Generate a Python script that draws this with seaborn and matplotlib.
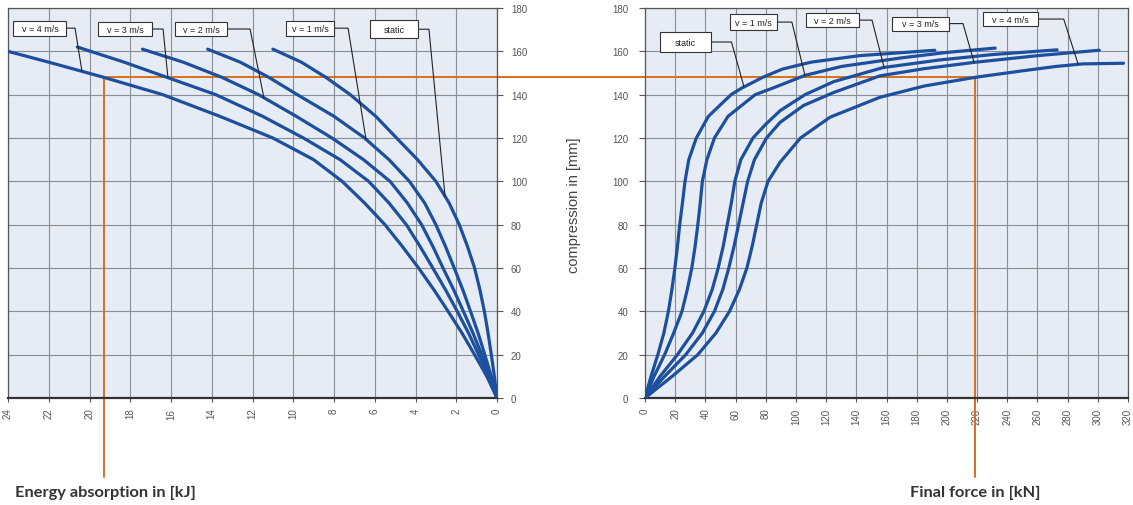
import numpy as np
import pandas as pd
import matplotlib
matplotlib.use('Agg')
import matplotlib.pyplot as plt
from matplotlib.patches import Rectangle
import seaborn as sns

# curve names, same order on both charts
series_names = ['static', 'v = 1 m/s', 'v = 2 m/s', 'v = 3 m/s', 'v = 4 m/s']

# left chart: energy absorption [kJ] vs compression [mm]
energy_mm = [0, 10, 20, 30, 40, 50, 60, 70, 80, 90, 100, 110, 120, 130, 140, 148, 155]
energy_static = [0, .13, .28, .44, .62, .84, 1.1, 1.45, 1.85, 2.35, 3.0, 3.9, 4.93, 5.95, 7.2, 8.4, 9.6]
energy_v1 = [0, .28, .6, .93, 1.3, 1.68, 2.1, 2.53, 3.0, 3.55, 4.3, 5.3, 6.5, 8.0, 9.8, 11.2, 12.6]
energy_v2 = [0, .35, .75, 1.18, 1.65, 2.13, 2.65, 3.15, 3.7, 4.4, 5.25, 6.55, 8.1, 9.85, 11.7, 13.5, 15.4]
energy_v3 = [0, .42, .9, 1.4, 1.95, 2.53, 3.15, 3.78, 4.45, 5.3, 6.3, 7.7, 9.5, 11.5, 13.8, 16.2, 18.3]
energy_v4 = [0, .5, 1.1, 1.72, 2.4, 3.1, 3.85, 4.65, 5.5, 6.5, 7.6, 9.0, 11.0, 13.6, 16.4, 19.3, 22.0]
energy_end_mm = [161, 161, 161, 162, 160]
energy_end_kj = [11.0, 14.2, 17.4, 20.6, 24.0]

# right chart: final force [kN] vs compression [mm]
force_mm_static = [0, 10, 20, 30, 40, 50, 60, 70, 80, 90, 100, 110, 120, 130, 140, 143, 148, 151.8,
                   155, 158, 160.5]
force_kn_static = [0, 4, 8.5, 12.5, 15.5, 17.8, 19.8, 21.5, 23, 24.8, 26.5, 29, 34, 42, 57, 64, 78,
                   91, 110, 142, 192]
force_mm_v1 = [0, 10, 20, 30, 40, 50, 60, 70, 80, 90, 100, 110, 120, 130, 140, 143.4, 148.9, 153,
               157, 159.5, 161.5]
force_kn_v1 = [0, 6, 13, 19, 24.5, 28, 31, 33.2, 35, 36.6, 38, 41, 46, 55, 73, 86, 106, 130, 170,
               200, 232]
force_mm_v2 = [0, 10, 20, 30, 40, 50, 60, 70, 80, 90, 100, 110, 120, 126, 132.6, 140, 146, 152.5,
               156, 158.5, 160.7]
force_kn_v2 = [0, 10, 21.5, 31.5, 39, 44.5, 48.5, 51.8, 54.5, 57.2, 59.5, 63.5, 71.5, 79.5, 89.5,
               106, 125, 157.7, 195, 230, 273]
force_mm_v3 = [0, 10, 20, 30, 40, 50, 60, 70, 80, 90, 100, 110, 120, 127.2, 135, 141, 148.7, 152,
               154.9, 158, 160.5]
force_kn_v3 = [0, 13, 27, 38, 46, 51.5, 55.5, 59, 62, 65, 68, 72.5, 80.5, 89.5, 105, 125, 155.7,
               185, 218, 260, 301]
force_mm_v4 = [0, 10, 20, 30, 40, 50, 60, 70, 80, 90, 100, 108.8, 120, 129.6, 138.8, 144, 148, 151,
               153, 154.2, 154.5]
force_kn_v4 = [0, 18, 35, 47, 56, 62.5, 67.5, 71, 74, 77, 81.5, 89.5, 103, 122.6, 155.7, 185, 218.7,
               250, 272, 290, 317]

# orange reading example
example_mm = 148
example_energy = 19.3
example_force = 218.7

energy_ticks = list(range(0, 25, 2))
force_ticks = list(range(0, 321, 20))
mm_ticks = list(range(0, 181, 20))

BLUE = '#1d4f9f'
ORANGE = '#d7701f'
FACE = '#e7ecf4'
GRID = '#8a8e97'

# build long tables for seaborn
energy_lists = [energy_static, energy_v1, energy_v2, energy_v3, energy_v4]
rows = []
for name, vals, m_end, e_end in zip(series_names, energy_lists, energy_end_mm, energy_end_kj):
    for m, e in zip(energy_mm + [m_end], vals + [e_end]):
        rows.append((name, m, e))
energy_df = pd.DataFrame(rows, columns=['series', 'mm', 'kJ'])

force_mm = [force_mm_static, force_mm_v1, force_mm_v2, force_mm_v3, force_mm_v4]
force_kn = [force_kn_static, force_kn_v1, force_kn_v2, force_kn_v3, force_kn_v4]
rows = []
for name, mms, kns in zip(series_names, force_mm, force_kn):
    for m, f in zip(mms, kns):
        rows.append((name, m, f))
force_df = pd.DataFrame(rows, columns=['series', 'mm', 'kN'])

sns.set_style('white')
plt.rcParams['font.family'] = ['Liberation Sans', 'DejaVu Sans']

fig = plt.figure(figsize=(11.33, 5.06), dpi=100)
ax1 = fig.add_axes([8 / 1133, 107 / 506, 489 / 1133, 390 / 506])
ax2 = fig.add_axes([645 / 1133, 107 / 506, 483 / 1133, 390 / 506])

sns.lineplot(data=energy_df, x='kJ', y='mm', hue='series', palette=[BLUE] * 5,
             sort=False, estimator=None, legend=False, lw=2.3, ax=ax1, zorder=3)
sns.lineplot(data=force_df, x='kN', y='mm', hue='series', palette=[BLUE] * 5,
             sort=False, estimator=None, legend=False, lw=2.3, ax=ax2, zorder=3)

for ax in (ax1, ax2):
    ax.set_facecolor(FACE)
    ax.set_ylim(0, 180)
    ax.set_yticks(mm_ticks)
    ax.grid(True, color=GRID, lw=0.8)
    ax.set_axisbelow(True)
    ax.set_xlabel('')
    ax.set_ylabel('')
    for s in ax.spines.values():
        s.set_color('#555555')
        s.set_linewidth(0.9)
    ax.spines['bottom'].set_color('#333333')
    ax.spines['bottom'].set_linewidth(1.6)
    ax.tick_params(axis='x', labelrotation=90, labelsize=7, colors='#555555',
                   length=3, width=0.8, pad=4, direction='out', bottom=True)
    ax.tick_params(axis='y', labelsize=7, colors='#555555', length=4, width=0.8)

ax1.set_xlim(24, 0)
ax1.set_xticks(energy_ticks)
ax1.yaxis.tick_right()
ax1.tick_params(axis='y', right=True, pad=6)

ax2.set_xlim(0, 320)
ax2.set_xticks(force_ticks)
ax2.tick_params(axis='y', left=True, pad=8)

# orange reading lines
label_depth = -36.5
x_gap = ax1.transData.inverted().transform(ax2.transData.transform((0, example_mm)))[0]
ax1.plot([example_energy, x_gap], [example_mm, example_mm], color=ORANGE, lw=1.4,
         clip_on=False, zorder=2)
ax1.plot([example_energy, example_energy], [example_mm, label_depth], color=ORANGE,
         lw=1.4, clip_on=False, zorder=2)
ax2.plot([0, example_force], [example_mm, example_mm], color=ORANGE, lw=1.4, zorder=2)
ax2.plot([example_force, example_force], [example_mm, label_depth], color=ORANGE,
         lw=1.4, clip_on=False, zorder=2)


def label_box(ax, x, y, text, w_px, h_px):
    # white framed box of fixed pixel size centred on (x, y); returns right edge in data x
    cx, cy = ax.transData.transform((x, y))
    inv = ax.transData.inverted()
    x0, y0 = inv.transform((cx - w_px / 2, cy - h_px / 2))
    x1, y1 = inv.transform((cx + w_px / 2, cy + h_px / 2))
    ax.add_patch(Rectangle((min(x0, x1), y0), abs(x1 - x0), y1 - y0, fc='white',
                           ec='#333333', lw=0.8, zorder=5, clip_on=False))
    ax.text(x, y, text, ha='center', va='center', fontsize=6.5, color='#222222', zorder=6)
    return x1


# label boxes and leader lines, left chart
energy_box_xy = [(5.06, 170.2), (9.18, 170.7), (14.53, 170.3), (18.26, 170.3), (22.43, 170.7)]
energy_box_w = [48, 48, 52, 54, 53]
energy_box_h = [18, 15, 14, 14, 15]
energy_elbow_x = [3.34, 7.31, 12.12, 16.39, 20.71]
energy_leader_kj = [2.55, 6.43, 11.44, 16.15, 20.37]
for i, name in enumerate(series_names):
    vals = energy_lists[i] + [energy_end_kj[i]]
    mms = energy_mm + [energy_end_mm[i]]
    bx, by = energy_box_xy[i]
    ly = np.interp(energy_leader_kj[i], vals, mms)
    edge = label_box(ax1, bx, by, name, energy_box_w[i], energy_box_h[i])
    ax1.plot([edge, energy_elbow_x[i], energy_leader_kj[i]], [by, by, ly], color='#222222',
             lw=0.8, zorder=4)

# label boxes and leader lines, right chart
force_box_xy = [(26.8, 164.3), (71.9, 173.5), (124.3, 174.4), (182.6, 172.8), (242.2, 174.9)]
force_box_w = [51, 47, 53, 57, 55]
force_box_h = [20, 16, 14, 14, 14]
force_elbow_x = [57.3, 97.3, 150.4, 210.7, 277.4]
force_leader_kn = [65.6, 106, 158.4, 218, 287]
for i, name in enumerate(series_names):
    bx, by = force_box_xy[i]
    ly = np.interp(force_leader_kn[i], force_kn[i], force_mm[i])
    edge = label_box(ax2, bx, by, name, force_box_w[i], force_box_h[i])
    ax2.plot([edge, force_elbow_x[i], force_leader_kn[i]], [by, by, ly], color='#222222',
             lw=0.8, zorder=4)

fig.text(0.507, 0.595, 'compression in [mm]', rotation=90, ha='center', va='center',
         fontsize=10.5, color='#444444')
fig.text(15 / 1133, 0.026, 'Energy absorption in [kJ]', ha='left', va='center',
         fontsize=11.8, fontweight='bold', color='#333333', family=['Lato', 'DejaVu Sans'])
fig.text(910 / 1133, 0.026, 'Final force in [kN]', ha='left', va='center',
         fontsize=11.8, fontweight='bold', color='#333333', family=['Lato', 'DejaVu Sans'])

fig.savefig('out.png', dpi=100, facecolor='white')
